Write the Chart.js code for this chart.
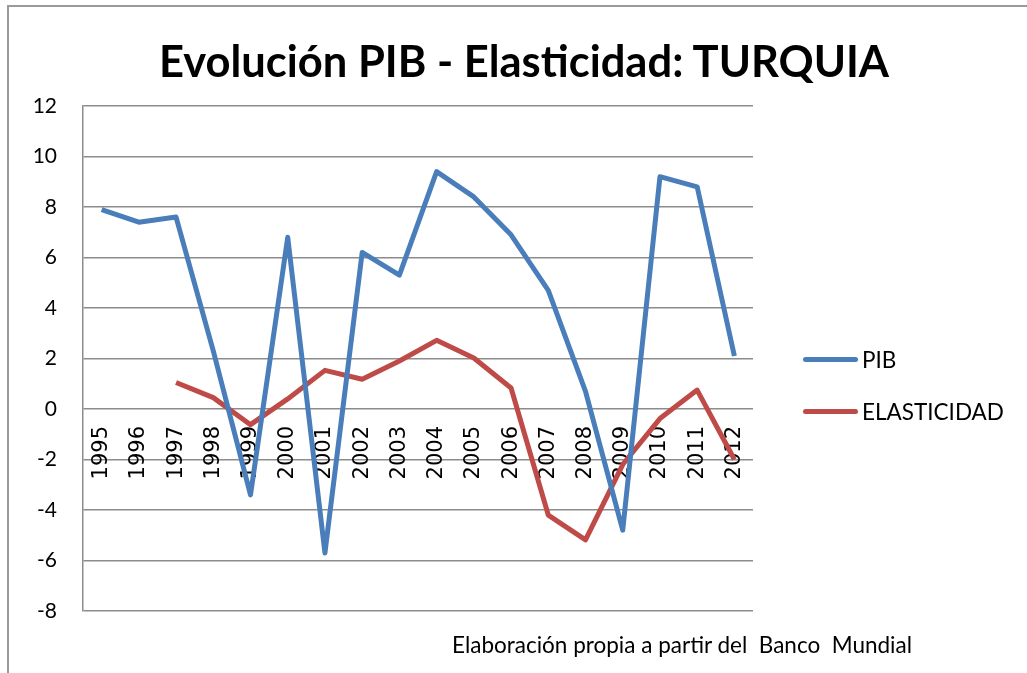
<!DOCTYPE html>
<html>
<head>
<meta charset="utf-8">
<script src="https://cdn.jsdelivr.net/npm/chart.js@4.4.1/dist/chart.umd.min.js"></script>
<style>
  body { margin: 0; background: #fff; }
  #wrap { position: relative; width: 1027px; height: 673px; overflow: hidden; font-family: Lato, "Open Sans", sans-serif; }
  #frame { position: absolute; left: 7px; top: 5px; right: -5px; bottom: -5px; border-left: 2px solid #9a9a9a; border-top: 2px solid #9a9a9a; }
  #graph { position: absolute; left: 0; top: 0; }
  #title { position: absolute; left: 0; width: 1048px; top: 39px; text-align: center; font-weight: bold; font-size: 43.5px; line-height: 1; color: #000; }
  #footer { position: absolute; left: 452px; top: 634px; font-size: 22.5px; line-height: 1; white-space: pre; color: #000; }
  .legend-item { position: absolute; left: 803px; height: 24px; display: flex; align-items: center; font-size: 22.5px; color: #000; }
  .legend-item span.swatch { display: inline-block; width: 55px; height: 5px; border-radius: 3px; margin-right: 4px; }
</style>
</head>
<body>
<div id="wrap">
  <div id="frame"></div>
  <canvas id="graph" width="1027" height="673"></canvas>
  <div id="title">Evolución PIB - Elasticidad: TURQUIA</div>
  <div id="legend"></div>
  <div id="footer">Elaboración propia a partir del  Banco  Mundial</div>
</div>
<script>
// Data
const years = ["1995", "1996", "1997", "1998", "1999", "2000", "2001", "2002", "2003",
               "2004", "2005", "2006", "2007", "2008", "2009", "2010", "2011", "2012"];
const pib = [7.9, 7.4, 7.6, 2.3, -3.4, 6.8, -5.7, 6.2, 5.3, 9.4, 8.4, 6.9, 4.7, 0.7, -4.8, 9.2, 8.8, 2.1];
const elasticidad = [null, null, 1.05, 0.45, -0.62, 0.4, 1.53, 1.18, 1.9, 2.72, 2.02, 0.83, -4.2, -5.18, -2.2, -0.38, 0.75, -2.0];
const seriesNames = ["PIB", "ELASTICIDAD"];
const seriesColors = ["#4a7ebb", "#be4b48"];

const gridColor = "#8c8c8c";

// HTML legend on the right
const legendEl = document.getElementById("legend");
const legendTops = [347, 399];
seriesNames.forEach((name, i) => {
  const item = document.createElement("div");
  item.className = "legend-item";
  item.style.top = legendTops[i] + "px";
  item.innerHTML = '<span class="swatch" style="background:' + seriesColors[i] + '"></span>' + name;
  legendEl.appendChild(item);
});

const ctx = document.getElementById("graph").getContext("2d");
const chart = new Chart(ctx, {
  type: "line",
  data: {
    labels: years,
    datasets: [
      {
        label: seriesNames[0],
        data: pib,
        borderColor: seriesColors[0],
        backgroundColor: seriesColors[0],
        borderWidth: 5,
        pointRadius: 0,
        tension: 0,
        borderJoinStyle: "round"
      },
      {
        label: seriesNames[1],
        data: elasticidad,
        borderColor: seriesColors[1],
        backgroundColor: seriesColors[1],
        borderWidth: 5,
        pointRadius: 0,
        tension: 0,
        borderJoinStyle: "round"
      }
    ]
  },
  options: {
    responsive: false,
    animation: false,
    layout: { padding: { top: 106, bottom: 62, left: 0, right: 274 } },
    plugins: {
      legend: { display: false },
      title: { display: false },
      tooltip: { enabled: false }
    },
    scales: {
      x: {
        type: "category",
        position: { y: 0 },
        offset: true,
        grid: { display: false, drawTicks: false },
        border: { display: false },
        ticks: {
          autoSkip: false,
          minRotation: 90,
          maxRotation: 90,
          padding: 17,
          color: "#000",
          font: { family: "'DejaVu Sans'", size: 21 }
        }
      },
      y: {
        min: -8,
        max: 12,
        afterFit: (scale) => { scale.width = 83; },
        grid: { color: gridColor, lineWidth: 1.5, drawTicks: false },
        border: { color: gridColor, width: 1.5 },
        ticks: {
          stepSize: 2,
          padding: 26,
          color: "#000",
          font: { family: "Lato", size: 21 }
        }
      }
    }
  }
});
</script>
</body>
</html>
